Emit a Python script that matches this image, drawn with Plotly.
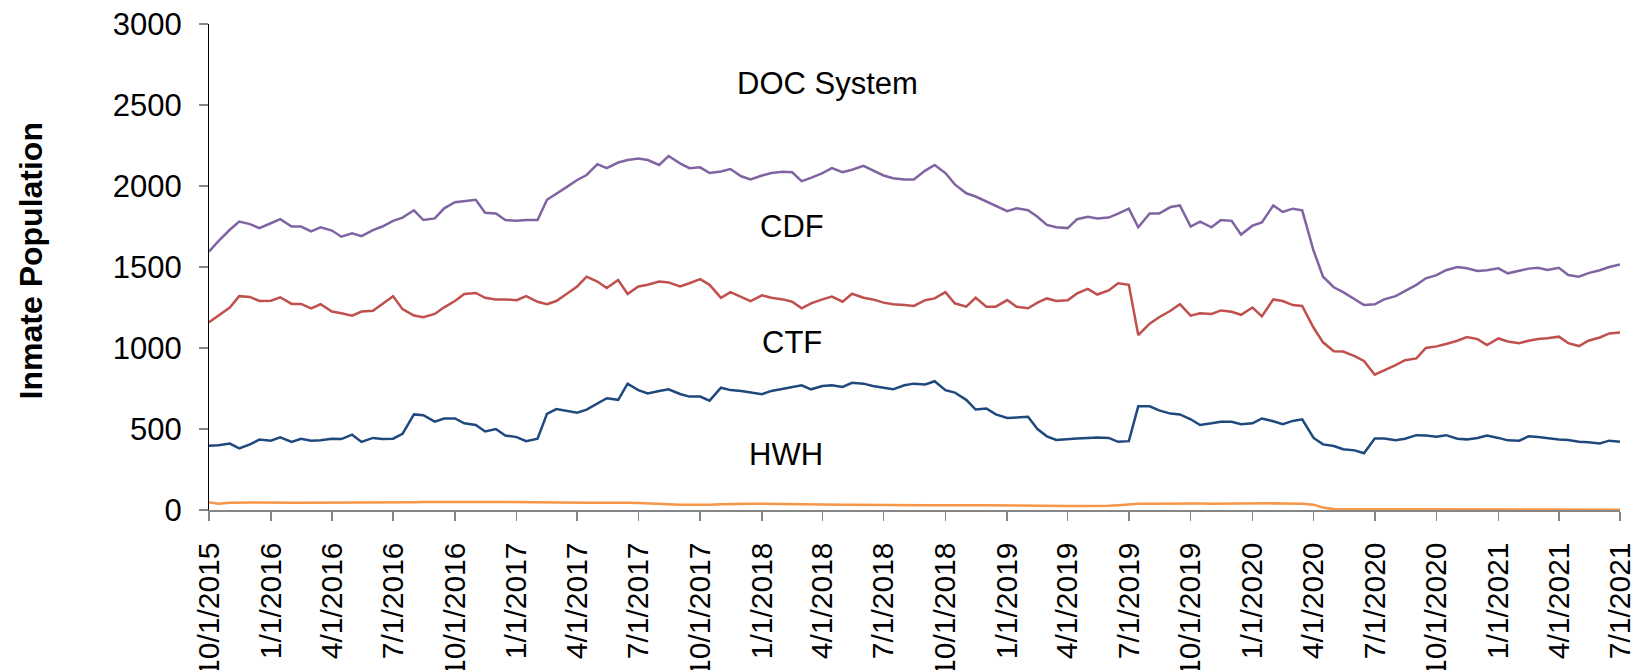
import pandas as pd
import plotly.graph_objects as go

# Semi-monthly sampling dates (1st and 15th of each month), 10/1/2015 .. 7/1/2021
dates = pd.date_range("2015-10-01", "2021-07-01", freq="SMS")

doc_system = [
    1595, 1660, 1730, 1780, 1765, 1740, 1770, 1795, 1750, 1750,
    1720, 1745, 1725, 1687, 1708, 1690, 1728, 1750, 1785, 1805,
    1850, 1790, 1800, 1862, 1900, 1905, 1915, 1835, 1830, 1790,
    1785, 1790, 1790, 1915, 1950, 1990, 2037, 2068, 2135, 2110,
    2145, 2160, 2170, 2160, 2130, 2185, 2140, 2110, 2115, 2080,
    2090, 2105, 2060, 2040, 2065, 2080, 2088, 2085, 2030, 2050,
    2080, 2110, 2085, 2100, 2125, 2095, 2065, 2048, 2040, 2040,
    2095, 2130, 2080, 2010, 1955, 1935, 1905, 1880, 1845, 1862,
    1850, 1810, 1760, 1745, 1740, 1795, 1810, 1800, 1805, 1830,
    1860, 1745, 1830, 1830, 1870, 1880, 1750, 1780, 1745, 1790,
    1785, 1700, 1755, 1775, 1880, 1840, 1860, 1850, 1600, 1440,
    1375, 1345, 1300, 1265, 1270, 1300, 1320, 1350, 1390, 1430,
    1450, 1480, 1500, 1492, 1475, 1480, 1492, 1461, 1475, 1490,
    1495, 1481, 1495, 1450, 1440, 1462, 1480, 1500, 1515,
]

cdf = [
    1159, 1200, 1250, 1320, 1315, 1290, 1292, 1313, 1272, 1272,
    1245, 1270, 1225, 1214, 1200, 1225, 1230, 1272, 1320, 1240,
    1200, 1190, 1210, 1251, 1290, 1333, 1340, 1310, 1300, 1300,
    1295, 1320, 1285, 1270, 1290, 1330, 1380, 1440, 1410, 1370,
    1420, 1333, 1380, 1390, 1410, 1405, 1380, 1400, 1425, 1390,
    1310, 1345, 1315, 1290, 1325, 1310, 1300, 1286, 1245, 1276,
    1300, 1317, 1286, 1335, 1310, 1300, 1280, 1270, 1265, 1260,
    1295, 1306, 1345, 1276, 1255, 1310, 1255, 1255, 1296, 1255,
    1245, 1280, 1306, 1290, 1295, 1337, 1365, 1330, 1355, 1400,
    1390, 1080, 1150, 1190, 1230, 1270, 1200, 1215, 1210, 1232,
    1224, 1205, 1250, 1195, 1300, 1290, 1265, 1260, 1125, 1035,
    980, 978, 950, 920, 835, 860, 895, 925, 936, 1000,
    1010, 1025, 1045, 1068, 1055, 1018, 1059, 1040, 1030, 1045,
    1055, 1060, 1070, 1030, 1012, 1045, 1065, 1090, 1095,
]

ctf = [
    397, 400, 410, 380, 405, 435, 428, 449, 420, 440,
    428, 430, 440, 438, 465, 420, 445, 438, 440, 470,
    590, 585, 545, 565, 565, 535, 525, 485, 500, 460,
    450, 425, 440, 593, 623, 613, 600, 620, 660, 690,
    680, 780, 740, 720, 735, 745, 716, 700, 700, 675,
    755, 740, 735, 725, 715, 735, 750, 760, 770, 745,
    765, 770, 760, 785, 780, 765, 755, 745, 770, 780,
    775, 795, 740, 725, 680, 620, 627, 590, 568, 570,
    575, 500, 455, 432, 440, 442, 445, 448, 445, 421,
    425, 640, 640, 615, 595, 590, 560, 525, 535, 545,
    545, 530, 535, 565, 548, 530, 550, 560, 445, 405,
    395, 375, 368, 350, 442, 442, 430, 440, 462, 460,
    452, 462, 440, 436, 445, 460, 445, 430, 428, 455,
    450, 442, 435, 432, 421, 418, 411, 428, 422,
]

hwh = [
    48, 38, 45, 47, 46, 46, 47, 46, 45, 44,
    44, 44, 45, 45, 46, 46, 47, 47, 48, 47,
    48, 49, 50, 50, 51, 52, 51, 50, 50, 49,
    48, 47, 46, 46, 45, 46, 45, 44, 44, 45,
    44, 44, 43, 42, 40, 36, 33, 32, 31, 33,
    36, 38, 37, 38, 38, 37, 36, 35, 34, 33,
    33, 32, 32, 33, 32, 31, 30, 31, 31, 30,
    30, 30, 31, 30, 30, 30, 29, 28, 28, 29,
    29, 28, 27, 26, 25, 25, 24, 24, 26, 30,
    35, 38, 39, 40, 40, 41, 41, 40, 39, 40,
    40, 39, 40, 42, 41, 40, 40, 38, 33, 15,
    6, 5, 5, 5, 4, 4, 4, 4, 4, 3,
    3, 3, 3, 3, 3, 3, 2, 2, 2, 2,
    2, 2, 2, 2, 2, 2, 2, 2, 2,
]

tick_labels = [
    "10/1/2015", "1/1/2016", "4/1/2016", "7/1/2016", "10/1/2016",
    "1/1/2017", "4/1/2017", "7/1/2017", "10/1/2017", "1/1/2018",
    "4/1/2018", "7/1/2018", "10/1/2018", "1/1/2019", "4/1/2019",
    "7/1/2019", "10/1/2019", "1/1/2020", "4/1/2020", "7/1/2020",
    "10/1/2020", "1/1/2021", "4/1/2021", "7/1/2021",
]
tick_dates = pd.to_datetime(tick_labels, format="%m/%d/%Y")

series_names = ["DOC System", "CDF", "CTF", "HWH"]
series_values = [doc_system, cdf, ctf, hwh]
series_colors = ["#8064A2", "#C0504D", "#1F497D", "#F79646"]

# label positions (date, value) for the in-chart series labels
label_dates = ["2018-04-08", "2018-02-15", "2018-02-15", "2018-02-06"]
label_values = [2635, 1752, 1035, 345]

FONT = "Liberation Sans, Arial, sans-serif"

fig = go.Figure()
for name, vals, col in zip(series_names, series_values, series_colors):
    fig.add_trace(go.Scatter(
        x=dates, y=vals, mode="lines", name=name,
        line=dict(color=col, width=2.5),
    ))

for name, d, v in zip(series_names, label_dates, label_values):
    fig.add_annotation(
        x=d, y=v, xref="x", yref="y", text=name, showarrow=False,
        font=dict(family=FONT, size=31, color="#000000"),
        xanchor="center", yanchor="middle",
    )

fig.add_annotation(
    text="<b>Inmate Population</b>", textangle=-90,
    xref="paper", yref="paper", x=-0.126, y=0.512,
    xanchor="center", yanchor="middle", showarrow=False,
    font=dict(family=FONT, size=32, color="#000000"),
)

fig.update_layout(
    width=1641, height=670,
    margin=dict(l=209, r=21, t=24, b=160, autoexpand=False),
    plot_bgcolor="white", paper_bgcolor="white",
    showlegend=False,
    font=dict(family=FONT, color="#000000"),
)
fig.update_xaxes(
    type="date", automargin=False,
    range=[tick_dates[0], tick_dates[-1]],
    tickmode="array", tickvals=tick_dates, ticktext=tick_labels,
    tickangle=-90, tickfont=dict(size=30, family=FONT, color="#000000"),
    ticks="outside", ticklen=9, tickcolor="#868686", tickwidth=1.5,
    showline=True, linecolor="#868686", linewidth=1.5,
    showgrid=False, zeroline=False,
    ticklabelstandoff=10,
)
fig.update_yaxes(
    range=[0, 3000], dtick=500, tick0=0, automargin=False,
    tickfont=dict(size=31, family=FONT, color="#000000"),
    ticks="outside", ticklen=9, tickcolor="#868686", tickwidth=1.5,
    showline=True, linecolor="#000000", linewidth=1,
    showgrid=False, zeroline=False,
    ticklabelstandoff=11,
)

fig.write_html(
    "out.html",
    config={"displayModeBar": False, "staticPlot": True},
    post_script="document.body.style.margin='0';document.body.style.padding='0';"
                "document.body.style.overflow='hidden';",
)
